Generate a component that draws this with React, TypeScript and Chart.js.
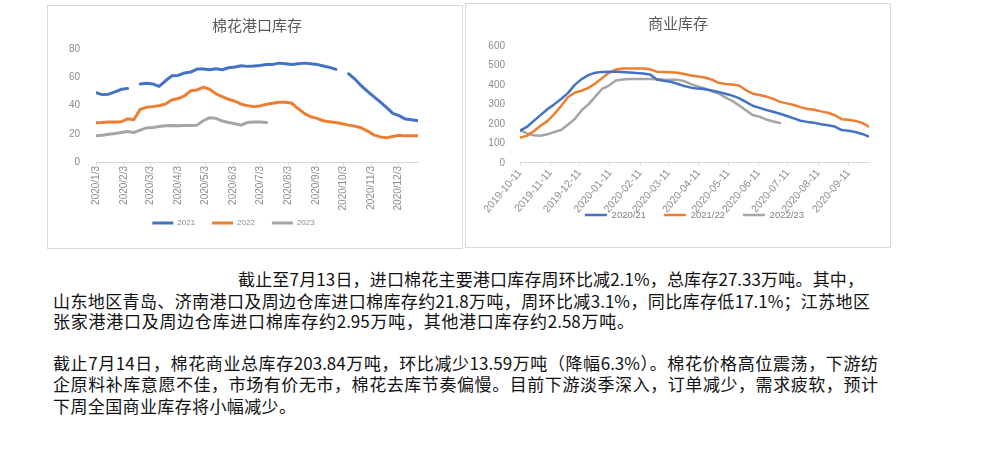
import React, { useEffect, useRef } from 'react';
import { Chart, registerables } from 'chart.js';

Chart.register(...registerables);

// ---------- Data: 棉花港口库存 (weekly, starting 2020/1/3) ----------
const portStartDate = '2020/1/3';
const portTickLabels = [
  '2020/1/3', '2020/2/3', '2020/3/3', '2020/4/3', '2020/5/3', '2020/6/3',
  '2020/7/3', '2020/8/3', '2020/9/3', '2020/10/3', '2020/11/3', '2020/12/3',
];
const portSeriesNames = ['2021', '2022', '2023'];
const port2021: (number | null)[] = [
  49, 47.7, 48, 49.6, 51.5, 52, null, 55.3, 55.8, 55.3, 53.5, 57.5, 61, 61.3, 63, 63.7,
  65.8, 65.8, 65.3, 66, 65.3, 66.7, 67.2, 68.2, 67.7, 68, 68.4, 69.1, 69.1, 70, 69.6, 69.1,
  69.6, 70, 69.6, 69.1, 68, 67, 65.6, null, 62.5, 58.7, 54, 50, 46.3, 42.5, 38.7, 34.4,
  32.8, 30.4, 29.9, 29.2,
];
const port2022: (number | null)[] = [
  27.8, 28, 28.3, 28.3, 28.5, 30.6, 29.9, 37.3, 38.7, 39.2, 39.9, 41.1, 43.9, 44.9, 46.8, 50.4,
  51, 53, 51.5, 48.2, 46.3, 44.4, 43, 40.9, 39.9, 39.2, 39.7, 40.9, 41.6, 42.3, 42.3, 41.6,
  37.8, 34.4, 32, 30.9, 29.2, 28.5, 28, 27.1, 26.1, 25.4, 24.2, 21.9, 19.2, 17.8, 17.1, 18,
  19, 18.5, 18.5, 18.5,
];
const port2023: (number | null)[] = [
  18.5, 19, 19.7, 20.2, 20.9, 21.6, 20.9, 22.6, 24.2, 24.5, 25.2, 25.7, 25.9, 25.7, 25.9, 25.9,
  26.1, 29.2, 31.4, 30.9, 29, 28, 27.1, 26.1, 28, 28.3, 28.3, 27.9,
];

// ---------- Data: 商业库存 (weekly, starting 2019-10-11) ----------
const commStartDate = '2019-10-11';
const commTickLabels = [
  '2019-10-11', '2019-11-11', '2019-12-11', '2020-01-11', '2020-02-11', '2020-03-11',
  '2020-04-11', '2020-05-11', '2020-06-11', '2020-07-11', '2020-08-11', '2020-09-11',
];
const commSeriesNames = ['2020/21', '2021/22', '2022/23'];
const comm2021: number[] = [
  165, 184, 215, 245, 275, 300, 328, 358, 400, 430, 450, 463, 467, 468, 468, 466,
  464, 461, 459, 454, 428, 421, 416, 406, 394, 386, 381, 378, 371, 364, 355, 345,
  332, 313, 293, 282, 271, 262, 252, 240, 228, 216, 210, 205, 198, 193, 186, 168,
  164, 158, 148, 134,
];
const comm2122: number[] = [
  129, 138, 162, 190, 214, 250, 292, 337, 360, 370, 385, 407, 435, 462, 479, 484,
  484, 484, 484, 480, 468, 467, 465, 463, 456, 448, 443, 438, 428, 411, 405, 402,
  397, 374, 355, 348, 340, 328, 313, 305, 297, 286, 276, 272, 264, 257, 244, 224,
  221, 215, 205, 185,
];
const comm2223: number[] = [
  168, 151, 141, 139, 146, 158, 168, 195, 225, 270, 300, 340, 380, 397, 423, 428,
  430, 431, 431, 430, 429, 427, 426, 426, 420, 404, 392, 382, 368, 356, 336, 318,
  295, 270, 245, 237, 222, 212, 203.84,
];

// ---------- Note text ----------
const noteLines = [
  '截止至7月13日，进口棉花主要港口库存周环比减2.1%，总库存27.33万吨。其中，',
  '山东地区青岛、济南港口及周边仓库进口棉库存约21.8万吨，周环比减3.1%，同比库存低17.1%；江苏地区',
  '张家港港口及周边仓库进口棉库存约2.95万吨，其他港口库存约2.58万吨。',
  '截止7月14日，棉花商业总库存203.84万吨，环比减少13.59万吨（降幅6.3%）。棉花价格高位震荡，下游纺',
  '企原料补库意愿不佳，市场有价无市，棉花去库节奏偏慢。目前下游淡季深入，订单减少，需求疲软，预计',
  '下周全国商业库存将小幅减少。',
];
const noteLayout = [
  { left: 238, right: 864, cy: 278 },
  { left: 53, right: 870, cy: 300 },
  { left: 53, right: 634, cy: 320 },
  { left: 53, right: 878, cy: 362 },
  { left: 53, right: 878, cy: 383 },
  { left: 53, right: 296, cy: 405 },
];

const COLORS = ['#4472C4', '#ED7D31', '#A5A5A5'];
const CJK = '"Noto Sans CJK SC", "Noto Sans", sans-serif';
const TICKFONT = '"Liberation Sans", "Noto Sans", sans-serif';

function toUTC(label: string): number {
  const [y, m, d] = label.split(/[\/-]/).map(Number);
  return Date.UTC(y, m - 1, d);
}
function dayOffset(label: string, start: string): number {
  return Math.round((toUTC(label) - toUTC(start)) / 86400000);
}
function weekly(values: (number | null)[]) {
  return values.map((v, i) => ({ x: i * 7, y: v }));
}

interface ChartSpec {
  title: string;
  names: string[];
  series: (number | null)[][];
  startDate: string;
  tickLabels: string[];
  yMax: number;
  yStep: number;
  lineWidth: number;
  rotation: number;
  padding: { left: number; right: number; top: number; bottom: number };
  titleFullSize: boolean;
  titlePad: { top: number; bottom: number };
  legendFullSize: boolean;
  legendFont: number;
  legendPad: number;
  legendLine: number;
  legendColor: string;
  yWidth: number;
  xHeight: number;
  yPad: number;
  tickFont: number;
}

function buildConfig(spec: ChartSpec): any {
  const tickDays = spec.tickLabels.map((l) => dayOffset(l, spec.startDate));
  const labelByDay = new Map<number, string>();
  spec.tickLabels.forEach((l, i) => labelByDay.set(tickDays[i], l));
  const maxLen = Math.max(...spec.series.map((s) => s.length));
  const xMax = (maxLen - 1) * 7;
  return {
    type: 'line',
    data: {
      datasets: spec.series.map((s, i) => ({
        label: spec.names[i],
        data: weekly(s),
        borderColor: COLORS[i],
        backgroundColor: COLORS[i],
        borderWidth: spec.lineWidth,
        pointRadius: 0,
        tension: 0,
        spanGaps: false,
        fill: false,
        borderCapStyle: 'round',
        borderJoinStyle: 'round',
      })),
    },
    options: {
      animation: false,
      responsive: false,
      maintainAspectRatio: false,
      layout: { padding: spec.padding },
      plugins: {
        title: {
          display: true,
          text: spec.title,
          color: '#595959',
          fullSize: spec.titleFullSize,
          font: { family: CJK, size: 15, weight: 'normal' },
          padding: spec.titlePad,
        },
        legend: {
          display: true,
          position: 'bottom',
          fullSize: spec.legendFullSize,
          labels: {
            usePointStyle: true,
            pointStyle: 'line',
            pointStyleWidth: spec.legendLine,
            color: spec.legendColor,
            padding: spec.legendPad,
            font: { family: TICKFONT, size: spec.legendFont },
          },
        },
        tooltip: { enabled: false },
      },
      scales: {
        x: {
          type: 'linear',
          min: 0,
          max: xMax,
          afterBuildTicks: (scale: any) => {
            scale.ticks = tickDays.map((v) => ({ value: v }));
          },
          afterFit: (scale: any) => {
            scale.height = spec.xHeight;
            // let the rotated labels overflow the (deliberately short) axis box
            scale._computeLabelArea = () => undefined;
          },
          ticks: {
            autoSkip: false,
            minRotation: spec.rotation,
            maxRotation: spec.rotation,
            padding: 1,
            color: '#8c8c8c',
            font: { family: TICKFONT, size: spec.tickFont },
            callback: (v: number) => labelByDay.get(v) ?? '',
          },
          grid: {
            display: true,
            drawOnChartArea: false,
            drawTicks: true,
            tickLength: 3,
            color: '#d9d9d9',
          },
          border: { display: true, color: '#d9d9d9', width: 1 },
        },
        y: {
          min: 0,
          max: spec.yMax,
          afterFit: (scale: any) => {
            scale.width = spec.yWidth;
          },
          ticks: {
            stepSize: spec.yStep,
            padding: spec.yPad,
            color: '#8c8c8c',
            font: { family: TICKFONT, size: 10 },
          },
          grid: { display: false },
          border: { display: false },
        },
      },
    },
  };
}

function LineChart({ spec, width, height }: { spec: ChartSpec; width: number; height: number }) {
  const ref = useRef<HTMLCanvasElement | null>(null);
  useEffect(() => {
    if (!ref.current) return;
    const chart = new Chart(ref.current, buildConfig(spec));
    return () => chart.destroy();
  }, []);
  return (
    <canvas
      ref={ref}
      width={width}
      height={height}
      style={{ display: 'block', width, height }}
    />
  );
}

const portSpec: ChartSpec = {
  title: '棉花港口库存',
  names: portSeriesNames,
  series: [port2021, port2022, port2023],
  startDate: portStartDate,
  tickLabels: portTickLabels,
  yMax: 80,
  yStep: 10,
  lineWidth: 3,
  rotation: 90,
  padding: { left: 1, right: 44, top: 0, bottom: 11 },
  titleFullSize: false,
  titlePad: { top: 10, bottom: 15 },
  legendFullSize: true,
  legendFont: 8,
  legendPad: 17,
  legendLine: 21,
  legendColor: '#8c8c8c',
  yWidth: 47,
  xHeight: 40,
  yPad: 8,
  tickFont: 10,
};

const commSpec: ChartSpec = {
  title: '商业库存',
  names: commSeriesNames,
  series: [comm2021, comm2122, comm2223],
  startDate: commStartDate,
  tickLabels: commTickLabels,
  yMax: 600,
  yStep: 100,
  lineWidth: 2.5,
  rotation: 50,
  padding: { left: 21, right: 21, top: 0, bottom: 17.25 },
  titleFullSize: true,
  titlePad: { top: 10, bottom: 14 },
  legendFullSize: false,
  legendFont: 9.5,
  legendPad: 18,
  legendLine: 22,
  legendColor: '#7f7f7f',
  yWidth: 33,
  xHeight: 29.5,
  yPad: 7,
  tickFont: 10.5,
};

export default function App() {
  return (
    <div
      lang="zh-CN"
      style={{
        position: 'absolute',
        left: 0,
        top: 0,
        width: 1004,
        height: 471,
        background: '#ffffff',
        overflow: 'hidden',
      }}
    >
      <div
        style={{
          position: 'absolute',
          left: 47,
          top: 5,
          width: 416,
          height: 244,
          border: '1px solid #d9d9d9',
          boxSizing: 'border-box',
        }}
      >
        <LineChart spec={portSpec} width={414} height={242} />
      </div>
      <div
        style={{
          position: 'absolute',
          left: 465,
          top: 3,
          width: 426,
          height: 245,
          border: '1px solid #d9d9d9',
          boxSizing: 'border-box',
        }}
      >
        <LineChart spec={commSpec} width={424} height={243} />
      </div>
      {noteLines.map((line, i) => {
        const l = noteLayout[i];
        return (
          <div
            key={i}
            style={{
              position: 'absolute',
              left: l.left,
              top: l.cy - 10.5,
              width: l.right - l.left,
              height: 21,
              lineHeight: '21px',
              fontSize: 17,
              fontFamily: CJK,
              color: '#111111',
              textAlign: 'justify',
              textAlignLast: 'justify',
            }}
          >
            {line}
          </div>
        );
      })}
    </div>
  );
}
